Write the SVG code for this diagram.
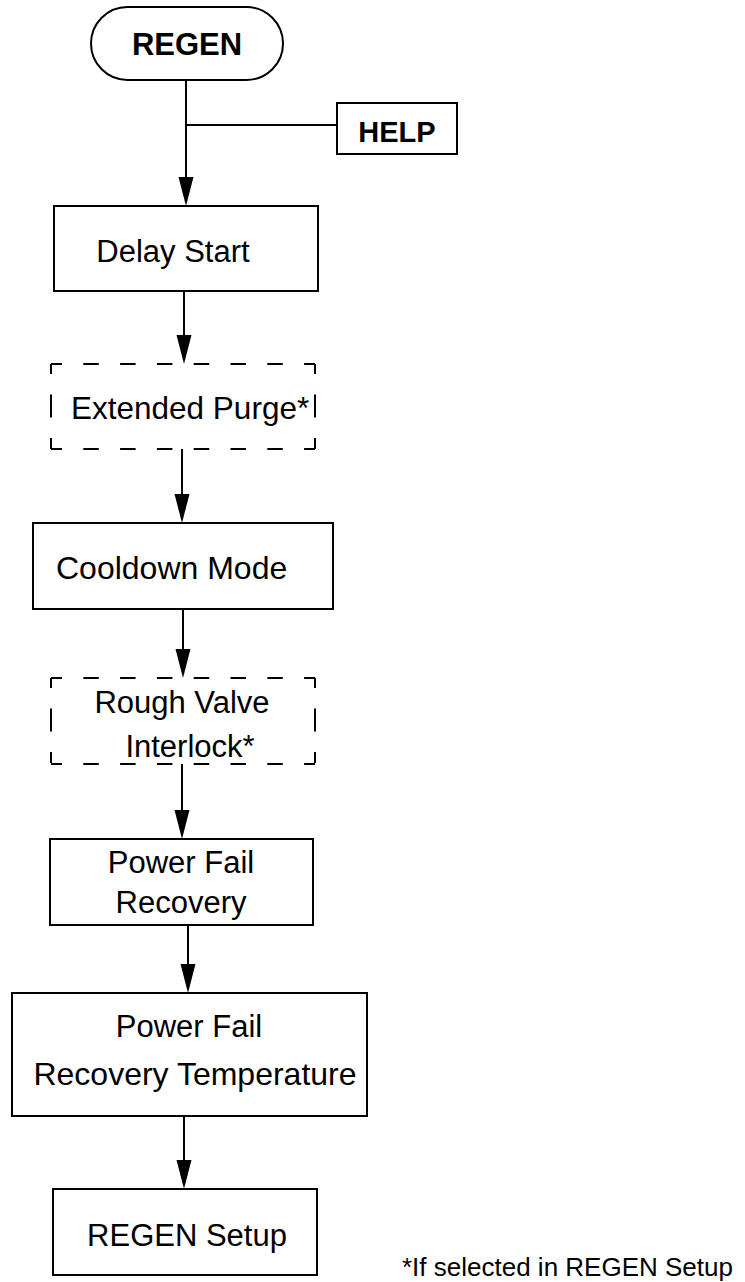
<svg xmlns="http://www.w3.org/2000/svg" width="745" height="1282" viewBox="0 0 745 1282">
<style>
  .box { fill: #ffffff; stroke: #000000; stroke-width: 2; }
  .edge { fill: none; stroke: #000000; stroke-width: 2; }
  .dh { fill: none; stroke: #000000; stroke-width: 2; stroke-dasharray: 15.5 21.3; stroke-dashoffset: 4.5; }
  .dv { fill: none; stroke: #000000; stroke-width: 2; stroke-dasharray: 10 20.5 23 20.5 11; }
  .lbl { font-family: "Liberation Sans", Arial, sans-serif; font-size: 31px; fill: #000000; text-anchor: middle; }
  .bold { font-weight: bold; }
  .head { fill: #000000; }
</style>
<rect width="745" height="1282" fill="#ffffff"/>

<g id="connectors">
  <line class="edge" x1="186" y1="80" x2="186" y2="180"/>
  <polygon class="head" points="178.5,177 193.5,177 186,206"/>
  <line class="edge" x1="186" y1="125" x2="337" y2="125"/>

  <line class="edge" x1="184" y1="291" x2="184" y2="338"/>
  <polygon class="head" points="176.5,335 191.5,335 184,364"/>

  <line class="edge" x1="182" y1="449" x2="182" y2="497"/>
  <polygon class="head" points="174.5,494 189.5,494 182,523"/>

  <line class="edge" x1="183" y1="609" x2="183" y2="652"/>
  <polygon class="head" points="175.5,649 190.5,649 183,678"/>

  <line class="edge" x1="182" y1="764" x2="182" y2="813"/>
  <polygon class="head" points="174.5,810 189.5,810 182,839"/>

  <line class="edge" x1="188" y1="925" x2="188" y2="967"/>
  <polygon class="head" points="180.5,964 195.5,964 188,993"/>

  <line class="edge" x1="184" y1="1116" x2="184" y2="1163"/>
  <polygon class="head" points="176.5,1160 191.5,1160 184,1189"/>
</g>

<g id="regen">
  <rect class="box" x="91" y="7" width="192" height="73" rx="36.5" ry="36.5"/>
  <text class="lbl bold" x="187" y="55">REGEN</text>
</g>

<g id="help">
  <rect class="box" x="337" y="103" width="120" height="51"/>
  <text class="lbl bold" x="397" y="142" style="font-size:29px">HELP</text>
</g>

<g id="delay-start">
  <rect class="box" x="54" y="206" width="264" height="85"/>
  <text class="lbl" x="173" y="262">Delay Start</text>
</g>

<g id="extended-purge">
  <line class="dh" x1="51" y1="364" x2="315" y2="364"/>
  <line class="dh" x1="51" y1="449" x2="315" y2="449"/>
  <line class="dv" x1="51" y1="364" x2="51" y2="449"/>
  <line class="dv" x1="315" y1="364" x2="315" y2="449"/>
  <text class="lbl" x="71" y="419" style="text-anchor:start;font-size:31.5px">Extended Purge*</text>
</g>

<g id="cooldown-mode">
  <rect class="box" x="33" y="523" width="300" height="86"/>
  <text class="lbl" x="56" y="579" style="text-anchor:start;font-size:32px">Cooldown Mode</text>
</g>

<g id="rough-valve-interlock">
  <line class="dh" x1="51" y1="678" x2="315" y2="678"/>
  <line class="dh" x1="51" y1="764" x2="315" y2="764"/>
  <line class="dv" x1="51" y1="678" x2="51" y2="764"/>
  <line class="dv" x1="315" y1="678" x2="315" y2="764"/>
  <text class="lbl" x="182" y="713">Rough Valve</text>
  <text class="lbl" x="190" y="757">Interlock*</text>
</g>

<g id="power-fail-recovery">
  <rect class="box" x="50" y="839" width="263" height="86"/>
  <text class="lbl" x="181" y="873">Power Fail</text>
  <text class="lbl" x="181" y="913">Recovery</text>
</g>

<g id="power-fail-recovery-temperature">
  <rect class="box" x="12" y="993" width="355" height="123"/>
  <text class="lbl" x="189" y="1037">Power Fail</text>
  <text class="lbl" x="195" y="1085" style="font-size:32px">Recovery Temperature</text>
</g>

<g id="regen-setup">
  <rect class="box" x="53" y="1189" width="264" height="86"/>
  <text class="lbl" x="187" y="1246">REGEN Setup</text>
</g>

<g id="footnote">
  <text class="lbl" x="402" y="1276" style="text-anchor:start;font-size:26px">*If selected in REGEN Setup</text>
</g>
</svg>
